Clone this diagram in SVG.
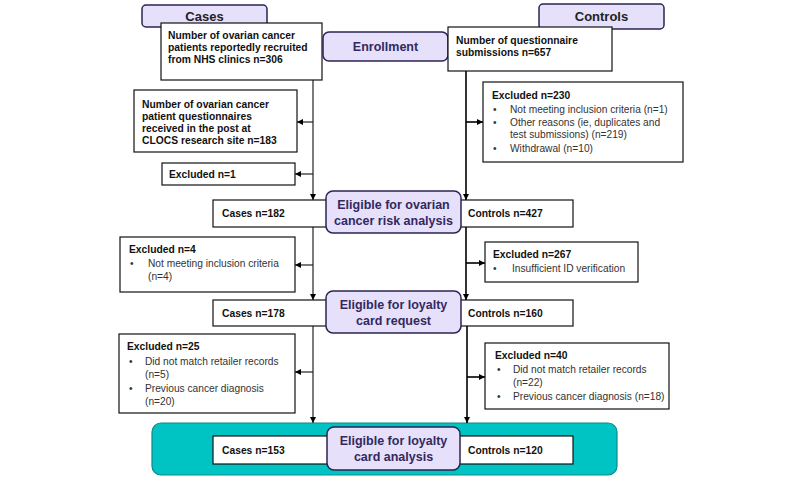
<svg xmlns="http://www.w3.org/2000/svg" width="800" height="479" viewBox="0 0 800 479">
<defs>
<marker id="ah" viewBox="0 0 10 10" refX="10" refY="5" markerWidth="6" markerHeight="6" markerUnits="userSpaceOnUse" orient="auto"><path d="M0,0 L10,5 L0,10 z" fill="#000"/></marker>
<style>
.box{fill:#fff;stroke:#111;stroke-width:1.2}
.pill{fill:#e6e0fa;stroke:#2b2352;stroke-width:1.5}
.b{font-family:"Liberation Sans",Arial,sans-serif;font-size:10.3px;font-weight:bold;fill:#111}
.r{font-family:"Liberation Sans",Arial,sans-serif;font-size:10.2px;fill:#333}
.p{font-family:"Liberation Sans",Arial,sans-serif;font-size:12.5px;font-weight:bold;fill:#33295f;text-anchor:middle}
.h{font-family:"Liberation Sans",Arial,sans-serif;font-size:13px;font-weight:bold;fill:#222;text-anchor:middle}
.ln{fill:none;stroke:#222;stroke-width:1.2}
.lr{fill:none;stroke:#000;stroke-width:1.6}
</style>
</defs>
<rect width="800" height="479" fill="#fff"/>

<g id="final-band"><rect x="152" y="423" width="465" height="52" rx="9" fill="#00c3c3" stroke="#0b8a8a" stroke-width="1.2"/></g>

<g id="connectors">
<path class="ln" d="M313,80 V200" marker-end="url(#ah)"/>
<path class="ln" d="M313,122 H297" marker-end="url(#ah)"/>
<path class="ln" d="M313,174 H295" marker-end="url(#ah)"/>
<path class="ln" d="M313,227 V300" marker-end="url(#ah)"/>
<path class="ln" d="M313,265 H295" marker-end="url(#ah)"/>
<path class="ln" d="M313,326 V423" marker-end="url(#ah)"/>
<path class="ln" d="M313,372 H295" marker-end="url(#ah)"/>
<path class="lr" d="M466,71 V200" marker-end="url(#ah)"/>
<path class="lr" d="M466,122 H483" marker-end="url(#ah)"/>
<path class="lr" d="M466,227 V300" marker-end="url(#ah)"/>
<path class="lr" d="M466,263 H485" marker-end="url(#ah)"/>
<path class="lr" d="M467,326 V423" marker-end="url(#ah)"/>
<path class="lr" d="M467,377 H485" marker-end="url(#ah)"/>
</g>

<g id="cases-header"><rect class="pill" x="142" y="5" width="125" height="22" rx="4"/><text class="h" x="204.5" y="21">Cases</text></g>
<g id="controls-header"><rect class="pill" x="539" y="4" width="125" height="25" rx="4"/><text class="h" x="601.5" y="21">Controls</text></g>

<g id="cases-recruited"><rect class="box" x="161" y="23" width="161" height="57"/>
<text class="b" x="168" y="39">Number of ovarian cancer</text>
<text class="b" x="168" y="51">patients reportedly recruited</text>
<text class="b" x="168" y="63">from NHS clinics n=306</text></g>

<g id="enrollment"><rect class="pill" x="323" y="32" width="125" height="29" rx="6"/><text class="p" x="385.5" y="51">Enrollment</text></g>

<g id="controls-submissions"><rect class="box" x="448" y="27" width="164" height="44"/>
<text class="b" x="456" y="44">Number of questionnaire</text>
<text class="b" x="456" y="56">submissions n=657</text></g>

<g id="cases-received"><rect class="box" x="134" y="90" width="163" height="62"/>
<text class="b" x="142" y="108">Number of ovarian cancer</text>
<text class="b" x="142" y="120">patient questionnaires</text>
<text class="b" x="142" y="132">received in the post at</text>
<text class="b" x="142" y="144">CLOCS research site n=183</text></g>

<g id="cases-excluded-1"><rect class="box" x="162" y="163" width="133" height="22"/>
<text class="b" x="169" y="178">Excluded n=1</text></g>

<g id="controls-excluded-230"><rect class="box" x="483" y="82" width="200" height="80"/>
<text class="b" x="492" y="99">Excluded n=230</text>
<text class="r" x="493" y="113">•</text><text class="r" x="510" y="113">Not meeting inclusion criteria (n=1)</text>
<text class="r" x="493" y="126">•</text><text class="r" x="510" y="126">Other reasons (ie, duplicates and</text>
<text class="r" x="510" y="138">test submissions) (n=219)</text>
<text class="r" x="493" y="152">•</text><text class="r" x="510" y="152">Withdrawal (n=10)</text></g>

<g id="eligible-risk">
<rect class="box" x="213" y="200" width="360" height="27"/>
<text class="b" x="222" y="217">Cases n=182</text>
<text class="b" x="468" y="217">Controls n=427</text>
<rect class="pill" x="326" y="191" width="135" height="42" rx="7"/>
<text class="p" x="393.5" y="209">Eligible for ovarian</text>
<text class="p" x="393.5" y="225">cancer risk analysis</text></g>

<g id="cases-excluded-4"><rect class="box" x="120" y="237" width="175" height="55"/>
<text class="b" x="129" y="253">Excluded n=4</text>
<text class="r" x="130" y="267">•</text><text class="r" x="148" y="267">Not meeting inclusion criteria</text>
<text class="r" x="148" y="280">(n=4)</text></g>

<g id="controls-excluded-267"><rect class="box" x="485" y="242" width="153" height="40"/>
<text class="b" x="493" y="258">Excluded n=267</text>
<text class="r" x="493" y="272">•</text><text class="r" x="512" y="272">Insufficient ID verification</text></g>

<g id="eligible-request">
<rect class="box" x="213" y="300" width="360" height="26"/>
<text class="b" x="222" y="317">Cases n=178</text>
<text class="b" x="468" y="317">Controls n=160</text>
<rect class="pill" x="326" y="291" width="135" height="42" rx="7"/>
<text class="p" x="393.5" y="309">Eligible for loyalty</text>
<text class="p" x="393.5" y="325">card request</text></g>

<g id="cases-excluded-25"><rect class="box" x="119" y="334" width="176" height="79"/>
<text class="b" x="127" y="350">Excluded n=25</text>
<text class="r" x="129" y="365">•</text><text class="r" x="145" y="365">Did not match retailer records</text>
<text class="r" x="145" y="378">(n=5)</text>
<text class="r" x="129" y="392">•</text><text class="r" x="145" y="392">Previous cancer diagnosis</text>
<text class="r" x="145" y="405">(n=20)</text></g>

<g id="controls-excluded-40"><rect class="box" x="485" y="343" width="184" height="66"/>
<text class="b" x="495" y="359">Excluded n=40</text>
<text class="r" x="497" y="373">•</text><text class="r" x="513" y="373">Did not match retailer records</text>
<text class="r" x="513" y="386">(n=22)</text>
<text class="r" x="497" y="400">•</text><text class="r" x="513" y="400">Previous cancer diagnosis (n=18)</text></g>

<g id="eligible-analysis">
<rect class="box" x="213" y="436" width="360" height="28"/>
<text class="b" x="222" y="454">Cases n=153</text>
<text class="b" x="468" y="454">Controls n=120</text>
<rect class="pill" x="327" y="427" width="133" height="43" rx="7"/>
<text class="p" x="393.5" y="445">Eligible for loyalty</text>
<text class="p" x="393.5" y="461">card analysis</text></g>
</svg>
